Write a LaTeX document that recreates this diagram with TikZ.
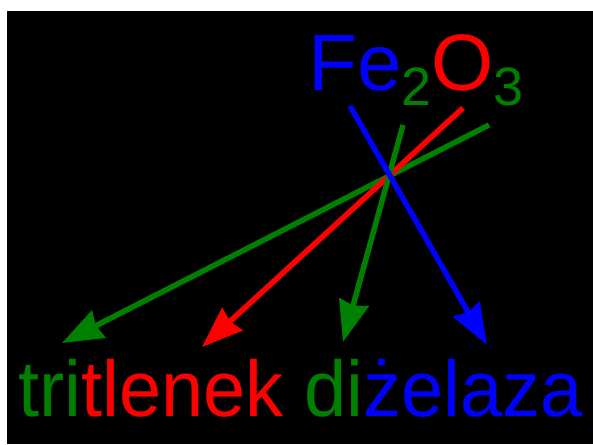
\documentclass[tikz,border=0pt]{standalone}
\usepackage{fontspec}
\setmainfont{Liberation Sans}
\usetikzlibrary{arrows.meta}
\definecolor{fgreen}{RGB}{0,128,0}
\definecolor{fred}{RGB}{255,0,0}
\definecolor{fblue}{RGB}{0,0,255}
\begin{document}
\begin{tikzpicture}[x=1pt,y=1pt,
  arr/.style={line width=5.5pt, -{Stealth[length=41pt,width=30pt,inset=3pt]}},
  lbl/.style={inner sep=0pt, anchor=base west}]
\fill[white] (0,0) rectangle (593,444);
\fill[black] (7,0) rectangle (593,433);
\useasboundingbox (0,0) rectangle (593,444);
\node[lbl] (formula) at (308,353) {\fontsize{80}{80}\selectfont\color{fblue}Fe\raisebox{-15pt}{\fontsize{54}{54}\selectfont\color{fgreen}2}\color{fred}O\raisebox{-15pt}{\fontsize{54}{54}\selectfont\color{fgreen}3}};
\node[lbl] (name) at (18,28) {\scalebox{0.96}[1]{\fontsize{79}{79}\selectfont\color{fgreen}tri\color{fred}tlenek \color{fgreen}di\color{fblue}żelaza}};
\coordinate (gl1) at (489,319); \coordinate (gl2) at (62,101);
\coordinate (r1) at (463,336); \coordinate (r2) at (202,97);
\coordinate (gs1) at (403,319); \coordinate (gs2) at (343,102);
\coordinate (b1) at (350,338); \coordinate (b2) at (487,99);
\draw[arr, fgreen] (gl1) -- (gl2);
\draw[arr, fred] (r1) -- (r2);
\draw[arr, fgreen] (gs1) -- (gs2);
\draw[arr, fblue] (b1) -- (b2);
\end{tikzpicture}
\end{document}
